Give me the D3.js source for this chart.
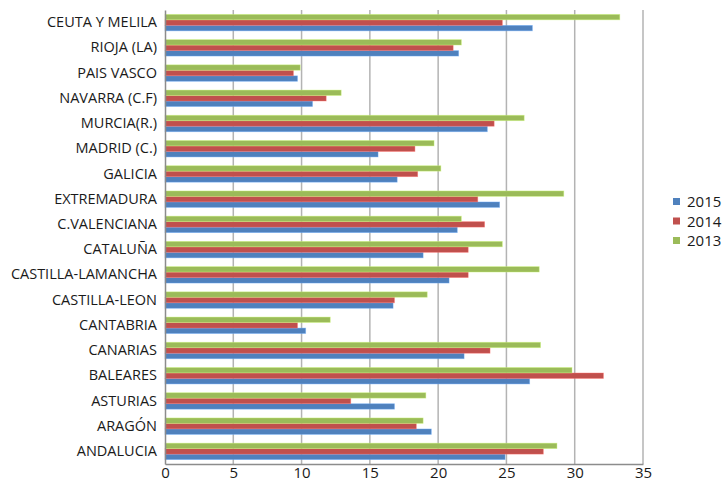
<!DOCTYPE html>
<html>
<head>
<meta charset="utf-8">
<script src="https://cdn.jsdelivr.net/npm/d3@7"></script>
<style>
  html, body { margin: 0; padding: 0; background: #fff; }
  svg { display: block; }
  text { font-family: "Open Sans", "Liberation Sans", sans-serif; fill: #1a1a1a; }
</style>
</head>
<body>
<svg id="chart" width="725" height="483"></svg>
<script>
// Regions, listed top to bottom
const regions = [
  "CEUTA Y MELILA", "RIOJA (LA)", "PAIS VASCO", "NAVARRA (C.F)", "MURCIA(R.)",
  "MADRID (C.)", "GALICIA", "EXTREMADURA", "C.VALENCIANA", "CATALUÑA",
  "CASTILLA-LAMANCHA", "CASTILLA-LEON", "CANTABRIA", "CANARIAS", "BALEARES",
  "ASTURIAS", "ARAGÓN", "ANDALUCIA"
];
const years = ["2015", "2014", "2013"];
const values2015 = [26.9, 21.5, 9.7, 10.8, 23.6, 15.6, 17.0, 24.5, 21.4, 18.9, 20.8, 16.7, 10.3, 21.9, 26.7, 16.8, 19.5, 24.9];
const values2014 = [24.7, 21.1, 9.4, 11.8, 24.1, 18.3, 18.5, 22.9, 23.4, 22.2, 22.2, 16.8, 9.7, 23.8, 32.1, 13.6, 18.4, 27.7];
const values2013 = [33.3, 21.7, 9.9, 12.9, 26.3, 19.7, 20.2, 29.2, 21.7, 24.7, 27.4, 19.2, 12.1, 27.5, 29.8, 19.1, 18.9, 28.7];
const xTicks = [0, 5, 10, 15, 20, 25, 30, 35];
const colors = { "2015": "#4f81bd", "2014": "#c0504d", "2013": "#9bbb59" };

const rows = regions.map((r, i) => ({ region: r, "2015": values2015[i], "2014": values2014[i], "2013": values2013[i] }));

const svg = d3.select("#chart");
const margin = { left: 165, right: 82, top: 10, bottom: 19 };
const W = 725, H = 483;

const x = d3.scaleLinear().domain([0, 35]).range([margin.left, W - margin.right]);
const y = d3.scaleBand().domain(regions).range([margin.top, H - margin.bottom]).paddingInner(0.34).paddingOuter(0.17);
// within a band: 2013 on top, then 2014, then 2015
const inner = d3.scaleBand().domain(["2013", "2014", "2015"]).range([0, y.bandwidth()]).padding(0.02);

// vertical gridlines
svg.append("g")
  .selectAll("line")
  .data(xTicks.slice(1))
  .join("line")
  .attr("x1", d => x(d)).attr("x2", d => x(d))
  .attr("y1", margin.top).attr("y2", H - margin.bottom)
  .attr("stroke", "#b3b3b3").attr("stroke-width", 1.5);

// bars
const groups = svg.append("g").selectAll("g")
  .data(rows)
  .join("g")
  .attr("transform", d => `translate(0,${y(d.region)})`);

groups.selectAll("rect")
  .data(d => years.map(yr => ({ year: yr, value: d[yr] })))
  .join("rect")
  .attr("x", x(0))
  .attr("y", d => inner(d.year))
  .attr("width", d => x(d.value) - x(0))
  .attr("height", inner.bandwidth())
  .attr("fill", d => colors[d.year])
  .attr("stroke", d => d3.color(colors[d.year]).brighter(0.8))
  .attr("stroke-opacity", 0.5)
  .attr("stroke-width", 0.8);

// x axis
const xAxis = svg.append("g")
  .attr("transform", `translate(0,${H - margin.bottom})`)
  .call(d3.axisBottom(x).tickValues(xTicks).tickSize(0).tickPadding(3));
xAxis.select(".domain").attr("stroke", "#8c8c8c").attr("stroke-width", 1.5);
xAxis.selectAll("text").style("font-size", "15px").attr("fill", "#1a1a1a").attr("dy", "0.7em");

// y axis
const yAxis = svg.append("g")
  .attr("transform", `translate(${margin.left},0)`)
  .call(d3.axisLeft(y).tickSize(0).tickPadding(8));
yAxis.select(".domain").attr("stroke", "#8c8c8c").attr("stroke-width", 1.5);
yAxis.selectAll("text").style("font-size", "14.5px").attr("fill", "#1a1a1a");

// legend
const legend = svg.append("g").attr("transform", "translate(673,198)");
const li = legend.selectAll("g").data(years).join("g")
  .attr("transform", (d, i) => `translate(0,${i * 19.5})`);
li.append("rect").attr("width", 7).attr("height", 7).attr("fill", d => colors[d]);
li.append("text").attr("x", 14).attr("y", 4).attr("dy", "0.35em")
  .style("font-size", "15px").text(d => d);
</script>
</body>
</html>
